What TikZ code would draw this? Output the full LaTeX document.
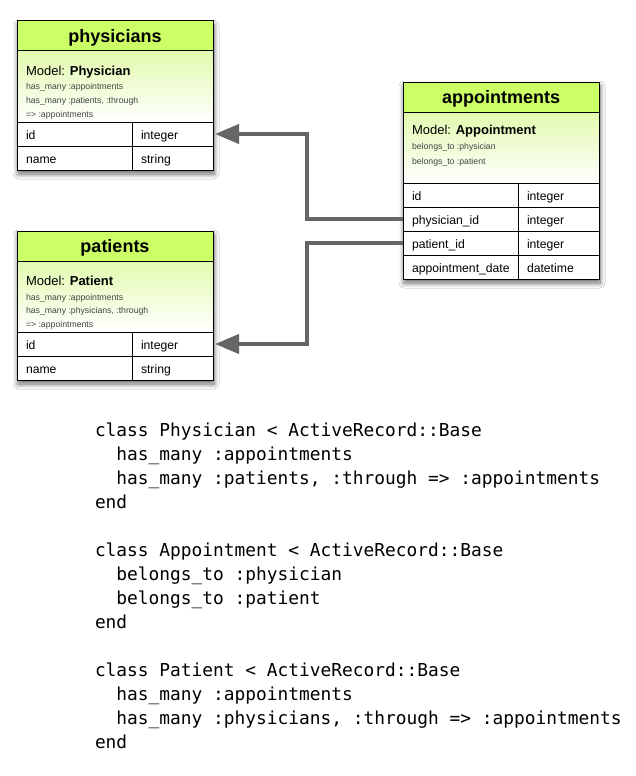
\documentclass[tikz,border=0pt]{standalone}
\usepackage{fontspec}
\setmainfont{Liberation Sans}
\newfontfamily\codefont{DejaVu Sans Mono}
\usetikzlibrary{shadows.blur,arrows.meta}

\definecolor{hdrgreen}{HTML}{CCFF66}
\definecolor{bodygreen}{HTML}{E2FAAE}
\definecolor{linkgray}{HTML}{666666}
\definecolor{notegray}{HTML}{444444}

\tikzset{
  every node/.style={outer sep=0pt},
  tableframe/.style={draw=black, line width=1pt, fill=white, anchor=north west,
    inner sep=0pt, minimum width=196pt,
    blur shadow={shadow xshift=1pt, shadow yshift=-4pt, shadow blur radius=5pt,
      shadow blur steps=10, shadow opacity=60}},
  header/.style={draw=black, line width=1pt, fill=hdrgreen, anchor=north west,
    inner sep=0pt, minimum width=196pt, minimum height=30pt,
    text height=13pt, text depth=0pt,
    font=\fontsize{18}{20}\selectfont\bfseries},
  modelbox/.style={draw=black, line width=1pt, anchor=north west, inner sep=0pt,
    minimum width=196pt, minimum height=71pt, top color=bodygreen, bottom color=white},
  modelline/.style={anchor=west, inner sep=0pt, font=\fontsize{13}{15}\selectfont},
  noteline/.style={anchor=west, inner sep=0pt, text=notegray,
    font=\fontsize{8.7}{10}\selectfont},
  cell/.style={draw=black, line width=1pt, fill=white, anchor=north west,
    minimum height=24pt, inner xsep=9pt, inner ysep=0pt, text height=11pt,
    text depth=1pt, align=left, font=\fontsize{12.2}{14}\selectfont},
  namecell/.style={cell, text width=97pt},
  typecell/.style={cell, text width=63pt},
  link/.style={draw=linkgray, line width=4pt,
    -{Triangle[length=24pt,width=19pt]}, shorten >=2pt},
  codeline/.style={anchor=base west, inner sep=0pt, font=\codefont\fontsize{17.85}{24}\selectfont},
}

\begin{document}
\begin{tikzpicture}[x=1pt,y=-1pt]
\useasboundingbox[fill=white] (0,0) rectangle (636,776);

% ---------- physicians ----------
\node[tableframe, minimum height=149pt] (phys) at (17,21) {};
\node[header] (phys-h) at (phys.north west) {physicians};
\node[modelbox] (phys-m) at (phys-h.south west) {};
\node[modelline] (phys-m1) at ([xshift=9pt,yshift=-21pt]phys-m.north west) {Model: \textbf{Physician}};
\node[noteline] (phys-n1) at ([xshift=9pt,yshift=-36pt]phys-m.north west) {has\_many :appointments};
\node[noteline] (phys-n2) at ([xshift=9pt,yshift=-50pt]phys-m.north west) {has\_many :patients, :through};
\node[noteline] (phys-n3) at ([xshift=9pt,yshift=-64pt]phys-m.north west) {=> :appointments};
\node[namecell] (phys-id) at (phys-m.south west) {id};
\node[typecell] (phys-idt) at (phys-id.north east) {integer};
\node[namecell] (phys-name) at (phys-id.south west) {name};
\node[typecell] (phys-namet) at (phys-name.north east) {string};

% ---------- appointments ----------
\node[tableframe, minimum height=197pt] (appt) at (403,82) {};
\node[header] (appt-h) at (appt.north west) {appointments};
\node[modelbox] (appt-m) at (appt-h.south west) {};
\node[modelline] (appt-m1) at ([xshift=9pt,yshift=-19pt]appt-m.north west) {Model: \textbf{Appointment}};
\node[noteline] (appt-n1) at ([xshift=9pt,yshift=-35pt]appt-m.north west) {belongs\_to :physician};
\node[noteline] (appt-n2) at ([xshift=9pt,yshift=-50pt]appt-m.north west) {belongs\_to :patient};
\node[namecell] (appt-id) at (appt-m.south west) {id};
\node[typecell] (appt-idt) at (appt-id.north east) {integer};
\node[namecell] (appt-phys) at (appt-id.south west) {physician\_id};
\node[typecell] (appt-physt) at (appt-phys.north east) {integer};
\node[namecell] (appt-pat) at (appt-phys.south west) {patient\_id};
\node[typecell] (appt-patt) at (appt-pat.north east) {integer};
\node[namecell] (appt-date) at (appt-pat.south west) {appointment\_date};
\node[typecell] (appt-datet) at (appt-date.north east) {datetime};

% ---------- patients ----------
\node[tableframe, minimum height=149pt] (pat) at (17,231) {};
\node[header] (pat-h) at (pat.north west) {patients};
\node[modelbox] (pat-m) at (pat-h.south west) {};
\node[modelline] (pat-m1) at ([xshift=9pt,yshift=-20pt]pat-m.north west) {Model: \textbf{Patient}};
\node[noteline] (pat-n1) at ([xshift=9pt,yshift=-37pt]pat-m.north west) {has\_many :appointments};
\node[noteline] (pat-n2) at ([xshift=9pt,yshift=-50pt]pat-m.north west) {has\_many :physicians, :through};
\node[noteline] (pat-n3) at ([xshift=9pt,yshift=-64pt]pat-m.north west) {=> :appointments};
\node[namecell] (pat-id) at (pat-m.south west) {id};
\node[typecell] (pat-idt) at (pat-id.north east) {integer};
\node[namecell] (pat-name) at (pat-id.south west) {name};
\node[typecell] (pat-namet) at (pat-name.north east) {string};

% ---------- foreign key links ----------
\draw[link] (appt-phys.west) -| ([xshift=94pt]phys-idt.east) |- (phys-idt.east);
\draw[link] (appt-pat.west) -| ([xshift=94pt]pat-idt.east) |- (pat-idt.east);

% ---------- model source ----------
\node[codeline] (c1)  at (95,436) {class Physician < ActiveRecord::Base};
\node[codeline] (c2)  at (95,460) {\ \ has\_many :appointments};
\node[codeline] (c3)  at (95,484) {\ \ has\_many :patients, :through => :appointments};
\node[codeline] (c4)  at (95,508) {end};
\node[codeline] (c5)  at (95,556) {class Appointment < ActiveRecord::Base};
\node[codeline] (c6)  at (95,580) {\ \ belongs\_to :physician};
\node[codeline] (c7)  at (95,604) {\ \ belongs\_to :patient};
\node[codeline] (c8)  at (95,628) {end};
\node[codeline] (c9)  at (95,676) {class Patient < ActiveRecord::Base};
\node[codeline] (c10) at (95,700) {\ \ has\_many :appointments};
\node[codeline] (c11) at (95,724) {\ \ has\_many :physicians, :through => :appointments};
\node[codeline] (c12) at (95,748) {end};
\end{tikzpicture}
\end{document}
